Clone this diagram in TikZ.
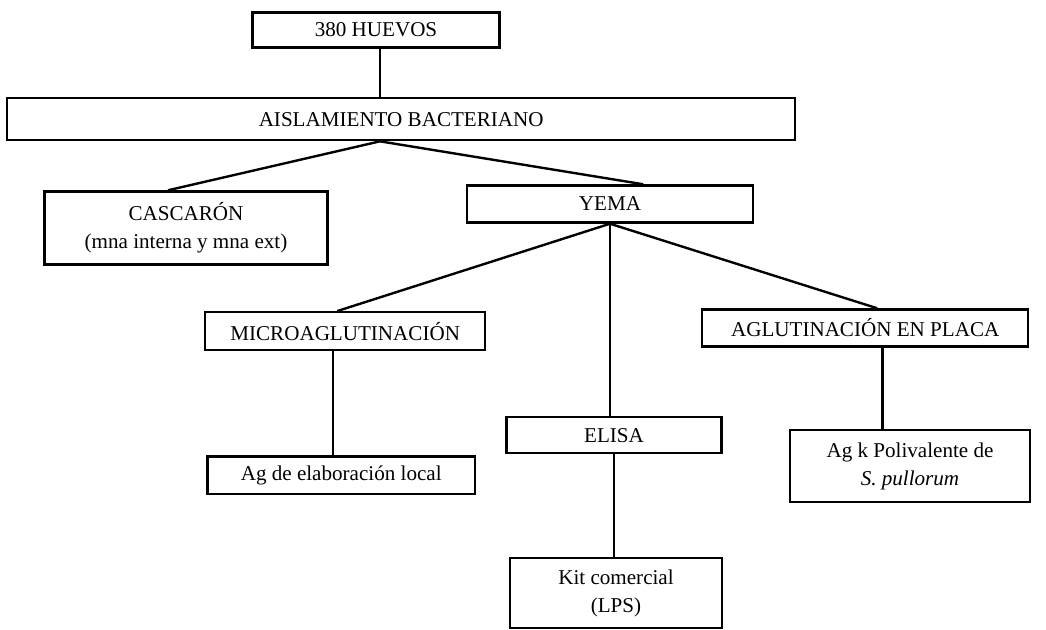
\documentclass[tikz,border=0pt]{standalone}
\usepackage{fontspec}
\setmainfont{Liberation Serif}
\usepackage{tikz}

\begin{document}
\begin{tikzpicture}[
  caja/.style={draw, line width=1.6pt, inner sep=0pt, align=center, font=\fontsize{15}{20}\selectfont},
  rama/.style={line width=1.7pt}]
\useasboundingbox (0cm,0cm) rectangle (26.15cm,-15.725cm);
\node[caja, minimum width=6.18cm, minimum height=0.88cm] (huevos) at (9.4cm,-0.75cm) {380 HUEVOS};
\node[caja, minimum width=19.7cm, minimum height=1.05cm] (aisl) at (10.03cm,-2.98cm) {AISLAMIENTO BACTERIANO};
\node[caja, minimum width=7.08cm, minimum height=1.83cm] (casc) at (4.65cm,-5.7cm) {CASCARÓN\\(mna interna y mna ext)};
\node[caja, minimum width=7.15cm, minimum height=0.93cm] (yema) at (15.25cm,-5.1cm) {YEMA};
\node[caja, minimum width=7cm, minimum height=0.95cm] (micro) at (8.63cm,-8.28cm) {MICROAGLUTINACIÓN};
\node[caja, minimum width=8.15cm, minimum height=0.93cm] (aglut) at (21.63cm,-8.2cm) {AGLUTINACIÓN EN PLACA};
\node[caja, minimum width=5.38cm, minimum height=0.9cm] (elisa) at (15.35cm,-10.88cm) {ELISA};
\node[caja, minimum width=6.68cm, minimum height=0.93cm] (agloc) at (8.53cm,-11.88cm) {Ag de elaboración local};
\node[caja, minimum width=6cm, minimum height=1.8cm] (agk) at (22.75cm,-11.65cm) {Ag k Polivalente de\\\textit{S. pullorum}};
\node[caja, minimum width=5.3cm, minimum height=1.75cm] (kit) at (15.4cm,-14.83cm) {Kit comercial\\(LPS)};
% ramas
\draw[rama] ([xshift=0.1cm]huevos.south) -- ([xshift=0.1cm]huevos.south |- aisl.north);
\draw[rama] ([xshift=-0.53cm]aisl.south) -- ([xshift=-0.45cm]casc.north);
\draw[rama] ([xshift=-0.53cm]aisl.south) -- ([xshift=0.83cm]yema.north);
\draw[rama] (yema.south) -- ([xshift=-0.2cm]micro.north);
\draw[rama] (yema.south) -- ([xshift=0.3cm]aglut.north);
\draw[rama] (yema.south) -- (yema.south |- elisa.north);
\draw[rama] ([xshift=-0.3cm]micro.south) -- ([xshift=-0.3cm]micro.south |- agloc.north);
\draw[rama] (elisa.south) -- (elisa.south |- kit.north);
\draw[rama] ([xshift=0.43cm]aglut.south) -- ([xshift=0.43cm]aglut.south |- agk.north);
\end{tikzpicture}
\end{document}
